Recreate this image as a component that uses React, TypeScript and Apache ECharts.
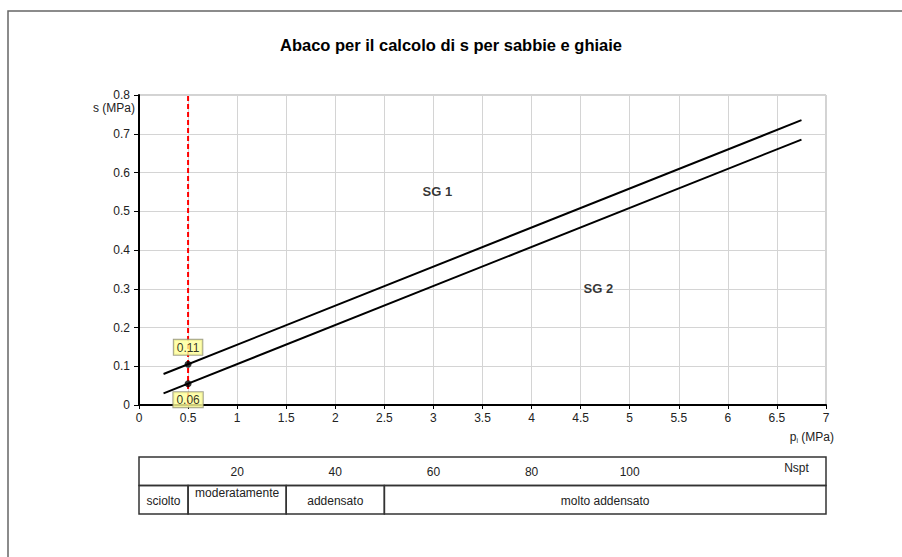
import React, { useEffect, useRef } from "react";
import * as echarts from "echarts";

const pRange = [0.25, 6.75];
const sg1Values = [0.08, 0.735];
const sg2Values = [0.03, 0.685];
const readX = 0.5;
const readValues = [0.105, 0.055];
const readLabels = ["0.11", "0.06"];
const zoneLabels = ["SG 1", "SG 2"];
const zoneX = [3.04, 4.68];
const zoneY = [0.55, 0.3];
const nsptTicks = [20, 40, 60, 80, 100];
const nsptName = "Nspt";
const densityLabels = ["sciolto", "moderatamente", "addensato", "molto addensato"];
const densityBounds = [0, 10, 30, 50, 140];

const FONT = "'Liberation Sans', Arial, sans-serif";
const FS = 12;

export default function App() {
  const ref = useRef<HTMLDivElement>(null);
  useEffect(() => {
    if (!ref.current) return;
    const chart = echarts.init(ref.current, undefined, { renderer: "svg" });

    const cells = densityLabels.map((l, i) => [densityBounds[i], densityBounds[i + 1], i]);

    const option: any = {
      animation: false,
      backgroundColor: "#fff",
      title: {
        text: "Abaco per il calcolo di s per sabbie e ghiaie",
        left: "center",
        top: 31,
        textStyle: { fontFamily: FONT, fontSize: 16.5, fontWeight: "bold", color: "#000" },
      },
      graphic: [
        {
          type: "rect",
          shape: { x: 8, y: 11, width: 2000, height: 2000 },
          style: { fill: "none", stroke: "#666", lineWidth: 1.5 },
          z: -10,
        },
        {
          type: "text",
          style: {
            text: "s (MPa)",
            x: 135,
            y: 108,
            align: "right",
            verticalAlign: "middle",
            font: `${FS}px ${FONT}`,
            fill: "#222",
          },
        },
        {
          type: "text",
          style: {
            text: "{p|p}{s|i}{n| (MPa)}",
            x: 834,
            y: 437,
            align: "right",
            verticalAlign: "middle",
            rich: {
              p: { fontFamily: FONT, fontSize: FS, fill: "#222" },
              s: { fontFamily: FONT, fontSize: 7, fill: "#222", padding: [6, 0, 0, 0] },
              n: { fontFamily: FONT, fontSize: FS, fill: "#222" },
            },
          },
        },
      ],
      grid: [
        { left: 139, right: 76, top: 95, bottom: 152, show: true, borderColor: "#a6a6a6", borderWidth: 1 },
        { left: 139, right: 76, top: 457, height: 57, show: false },
      ],
      xAxis: [
        {
          type: "value",
          gridIndex: 0,
          min: 0,
          max: 7,
          interval: 0.5,
          axisLine: { show: true, onZero: false, lineStyle: { color: "#000", width: 2 } },
          axisTick: { show: true, length: 4, lineStyle: { color: "#000", width: 1 } },
          axisLabel: { color: "#222", fontFamily: FONT, fontSize: FS, margin: 7 },
          splitLine: { show: true, lineStyle: { color: "#d4d4d4", width: 1 } },
        },
        {
          type: "value",
          gridIndex: 1,
          min: 0,
          max: 140,
          show: false,
        },
      ],
      yAxis: [
        {
          type: "value",
          gridIndex: 0,
          min: 0,
          max: 0.8,
          interval: 0.1,
          axisLine: { show: true, onZero: false, lineStyle: { color: "#000", width: 2 } },
          axisTick: { show: true, length: 5, lineStyle: { color: "#000", width: 1 } },
          axisLabel: { color: "#222", fontFamily: FONT, fontSize: FS, margin: 9 },
          splitLine: { show: true, lineStyle: { color: "#d4d4d4", width: 1 } },
        },
        {
          type: "value",
          gridIndex: 1,
          min: 0,
          max: 2,
          show: false,
        },
      ],
      series: [
        {
          type: "line",
          name: "red",
          data: [
            [readX, 0],
            [readX, 0.8],
          ],
          symbol: "none",
          lineStyle: { color: "#ff0000", width: 2, type: [5, 3] },
          z: 2,
        },
        {
          type: "line",
          name: "SG1",
          data: pRange.map((p, i) => [p, sg1Values[i]]),
          symbol: "none",
          lineStyle: { color: "#000", width: 2 },
          z: 3,
        },
        {
          type: "line",
          name: "SG2",
          data: pRange.map((p, i) => [p, sg2Values[i]]),
          symbol: "none",
          lineStyle: { color: "#000", width: 2 },
          z: 3,
        },
        {
          type: "scatter",
          name: "read",
          data: readValues.map((v, i) => ({
            value: [readX, v],
            label: {
              show: true,
              formatter: readLabels[i],
              position: i === 0 ? "top" : "bottom",
              distance: i === 0 ? 6 : 5,
              backgroundColor: "#ffff99",
              borderColor: "#8c8c6e",
              borderWidth: 1,
              padding: [2, 3, 1, 3],
              color: "#000",
              fontFamily: FONT,
              fontSize: FS,
            },
          })),
          symbol: "circle",
          symbolSize: 7,
          itemStyle: { color: "#000" },
          z: 5,
        },
        {
          type: "scatter",
          name: "zones",
          data: zoneLabels.map((l, i) => ({
            value: [zoneX[i], zoneY[i]],
            label: {
              show: true,
              formatter: l,
              position: "inside",
              color: "#000",
              fontFamily: FONT,
              fontSize: 13,
              fontWeight: "bold",
            },
          })),
          symbolSize: 1,
          itemStyle: { color: "rgba(0,0,0,0)" },
          z: 4,
        },
        {
          type: "custom",
          name: "nsptRow",
          xAxisIndex: 1,
          yAxisIndex: 1,
          data: [[0, 140]],
          renderItem: (params: any, api: any) => {
            const a = api.coord([api.value(0), 2]);
            const b = api.coord([api.value(1), 1]);
            const children: any[] = [
              {
                type: "rect",
                shape: { x: a[0], y: a[1], width: b[0] - a[0], height: b[1] - a[1] },
                style: { fill: "none", stroke: "#333", lineWidth: 1.5 },
              },
            ];
            nsptTicks.forEach((t) => {
              const c = api.coord([t, 1.5]);
              children.push({
                type: "text",
                style: {
                  text: String(t),
                  x: c[0],
                  y: c[1] + 1,
                  align: "center",
                  verticalAlign: "middle",
                  font: `${FS}px ${FONT}`,
                  fill: "#222",
                },
              });
            });
            const n = api.coord([134, 1.6]);
            children.push({
              type: "text",
              style: {
                text: nsptName,
                x: n[0],
                y: n[1],
                align: "center",
                verticalAlign: "middle",
                font: `${FS}px ${FONT}`,
                fill: "#222",
              },
            });
            return { type: "group", children };
          },
        },
        {
          type: "custom",
          name: "density",
          xAxisIndex: 1,
          yAxisIndex: 1,
          data: cells,
          renderItem: (params: any, api: any) => {
            const a = api.coord([api.value(0), 1]);
            const b = api.coord([api.value(1), 0]);
            const idx = api.value(2);
            const label = densityLabels[idx];
            const cx = (a[0] + b[0]) / 2;
            const cy = (a[1] + b[1]) / 2 + (label === "moderatamente" ? -7 : 1);
            return {
              type: "group",
              children: [
                {
                  type: "rect",
                  shape: { x: a[0], y: a[1], width: b[0] - a[0], height: b[1] - a[1] },
                  style: { fill: "none", stroke: "#333", lineWidth: 1.5 },
                },
                {
                  type: "text",
                  style: {
                    text: label,
                    x: cx,
                    y: cy,
                    align: "center",
                    verticalAlign: "middle",
                    font: `${FS}px ${FONT}`,
                    fill: "#222",
                  },
                },
              ],
            };
          },
        },
      ],
    };
    chart.setOption(option);
    return () => chart.dispose();
  }, []);
  return (
    <div
      ref={ref}
      style={{ position: "fixed", left: 0, top: 0, width: 902, height: 557, background: "#fff" }}
    />
  );
}
